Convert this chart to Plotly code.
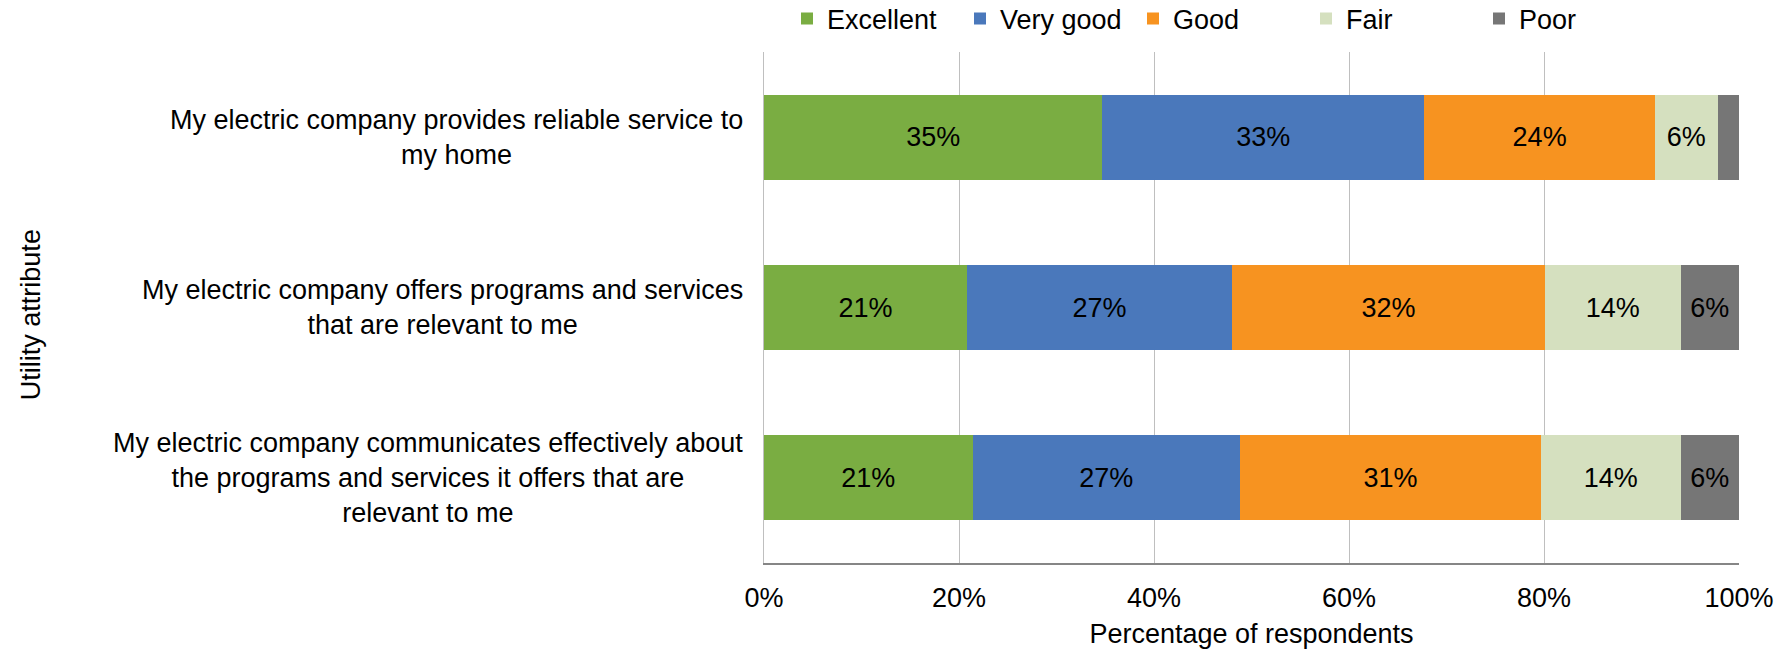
import plotly.graph_objects as go

categories = [
    "My electric company provides reliable service to<br>my home",
    "My electric company offers programs and services<br>that are relevant to me",
    "My electric company communicates effectively about<br>the programs and services it offers that are<br>relevant to me",
]
series_names = ["Excellent", "Very good", "Good", "Fair", "Poor"]
excellent = [34.7, 20.8, 21.4]
very_good = [33.0, 27.2, 27.4]
good = [23.7, 32.1, 30.9]
fair = [6.4, 13.9, 14.3]
poor = [2.2, 6.0, 6.0]
colors = ["#7AAD42", "#4A78BB", "#F79320", "#D5E0BF", "#767676"]
x_ticks = [0, 20, 40, 60, 80, 100]
x_tick_labels = ["0%", "20%", "40%", "60%", "80%", "100%"]

FONT = "Liberation Sans, Arial, sans-serif"
FS = 27

keys = list(range(len(categories)))
fig = go.Figure()
for name, vals, col in zip(series_names, [excellent, very_good, good, fair, poor], colors):
    labels = [f"{round(v)}%" if v >= 3 else "" for v in vals]
    fig.add_trace(go.Bar(
        name=name, y=keys, x=vals, orientation="h",
        marker=dict(color=col, line=dict(width=0)),
        text=labels, textposition="inside", insidetextanchor="middle",
        textangle=0,
        textfont=dict(family=FONT, size=FS, color="#000000"),
        width=0.5, hoverinfo="skip",
    ))

for k, cat in zip(keys, categories):
    fig.add_annotation(
        x=-0.0195, xref="paper", y=k, yref="y", text=cat, showarrow=False,
        xanchor="right", yanchor="middle", align="center",
        font=dict(family=FONT, size=FS, color="#000000"),
    )

fig.add_annotation(
    x=(31 - 764) / 975, xref="paper", y=0.485, yref="paper",
    text="Utility attribute", textangle=-90, showarrow=False,
    xanchor="center", yanchor="middle",
    font=dict(family=FONT, size=FS, color="#000000"),
)

fig.update_layout(
    width=1777, height=649,
    margin=dict(l=764, r=38, t=52, b=86),
    barmode="stack",
    plot_bgcolor="white", paper_bgcolor="white",
    font=dict(family=FONT, size=FS, color="#000000"),
    showlegend=True,
    legend=dict(
        orientation="h", xref="paper", yref="container",
        x=(787 - 764) / 975, xanchor="left",
        y=1 - 19 / 649, yanchor="middle",
        entrywidth=128, entrywidthmode="pixels",
        font=dict(family=FONT, size=FS, color="#000000"),
        traceorder="normal",
    ),
    xaxis=dict(
        range=[0, 100], tickmode="array", tickvals=x_ticks, ticktext=x_tick_labels,
        showgrid=True, gridcolor="#BFBFBF", gridwidth=1,
        showline=True, linecolor="#868686", linewidth=2,
        zeroline=False, ticks="", ticklabelstandoff=10,
        tickfont=dict(family=FONT, size=FS, color="#000000"),
        title=dict(text="Percentage of respondents", standoff=17,
                   font=dict(family=FONT, size=FS, color="#000000")),
        automargin=False,
    ),
    yaxis=dict(
        tickvals=keys, range=[2.5, -0.5], showticklabels=False,
        showgrid=False, showline=True, linecolor="#BFBFBF", linewidth=1,
        zeroline=False, ticks="", automargin=False,
    ),
)

fig.write_html("out.html")
